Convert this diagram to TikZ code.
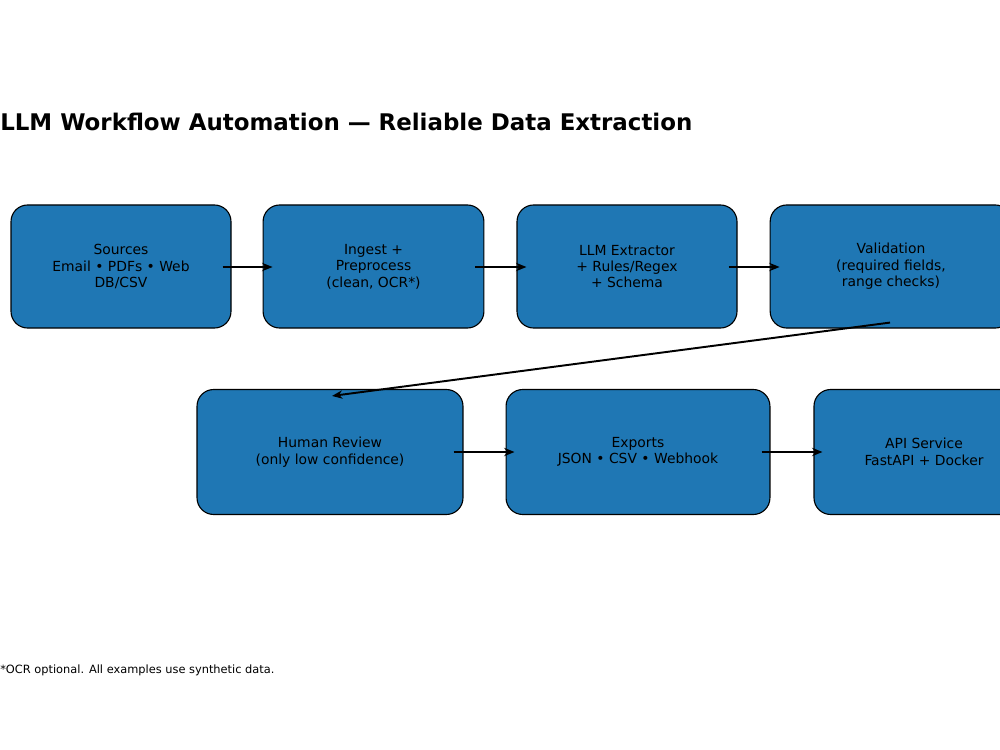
\documentclass[tikz,border=0pt]{standalone}
\usepackage{fontspec}
\setmainfont{DejaVu Sans}
\usetikzlibrary{arrows.meta,calc}
\definecolor{mplblue}{HTML}{1F77B4}
\begin{document}
\begin{tikzpicture}[x=0.72pt,y=-0.72pt,
  stage/.style={draw=black, line width=0.8pt, fill=mplblue, rounded corners=12pt,
    align=center, font=\fontsize{10}{11.8}\selectfont, inner sep=0pt},
  rowone/.style={stage, minimum height=88.6pt},
  rowtwo/.style={stage, minimum height=90pt},
  flow/.style={-{Stealth[length=7.5pt,width=6pt]}, line width=1.4pt}]
\clip (0,0) rectangle (1000,750);
\node[anchor=base west, inner sep=0pt, font=\fontsize{16.5}{18}\selectfont\bfseries] (title) at (0,131) {LLM Workflow Automation — Reliable Data Extraction};
\node[rowone, minimum width=158.4pt] (src) at (121,266.5) {Sources\\Email • PDFs • Web\\DB/CSV};
\node[rowone, minimum width=159pt] (ing) at (373.5,266.5) {Ingest +\\Preprocess\\(clean, OCR*)};
\node[rowone, minimum width=158.4pt] (llm) at (627,266.5) {LLM Extractor\\+ Rules/Regex\\+ Schema};
\node[rowone, minimum width=174pt] (val) at (891,266.5) {Validation\\(required fields,\\range checks)};
\node[rowtwo, minimum width=191.5pt] (hr) at (330,452) {Human Review\\(only low confidence)};
\node[rowtwo, minimum width=190pt] (exp) at (638,452) {Exports\\JSON • CSV • Webhook};
\node[rowtwo, minimum width=158.4pt] (api) at (924,452) {API Service\\FastAPI + Docker};
\draw[flow] ($(src.east)+(-9,0.5)$) -- ($(ing.west)+(10,0.5)$);
\draw[flow] ($(ing.east)+(-9,0.5)$) -- ($(llm.west)+(10,0.5)$);
\draw[flow] ($(llm.east)+(-9,0.5)$) -- ($(val.west)+(10,0.5)$);
\draw[flow] ($(val.south)+(-1,-6)$) -- ($(hr.north)+(2,7)$);
\draw[flow] ($(hr.east)+(-10,0)$) -- ($(exp.west)+(9,0)$);
\draw[flow] ($(exp.east)+(-9,0)$) -- ($(api.west)+(9,0)$);
\node[anchor=base west, inner sep=0pt, font=\fontsize{8.2}{10}\selectfont] (note) at (0,673) {*OCR optional. All examples use synthetic data.};
\end{tikzpicture}
\end{document}
